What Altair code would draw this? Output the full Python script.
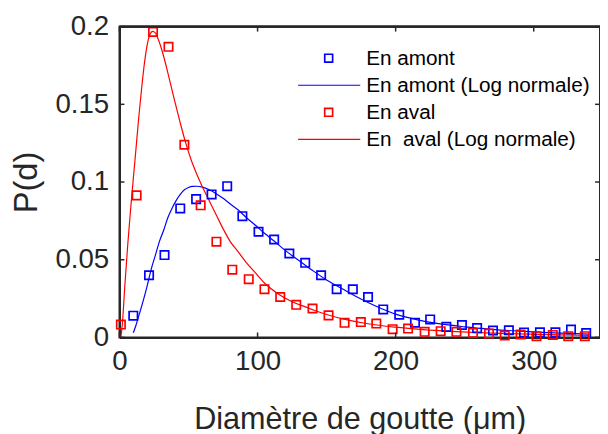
import altair as alt
import pandas as pd

# ---------------- data ----------------
amont_d = [10, 21.4, 32.6, 44, 55.5, 66.7, 78, 89, 100.7, 112, 123, 134.5, 146, 157.3, 169,
           180, 191, 202.6, 214, 225, 236.7, 248, 259, 270.5, 282, 293, 304.5, 315.7, 327, 338]
amont_p = [0.014, 0.040, 0.053, 0.083, 0.089, 0.092, 0.0973, 0.078, 0.068, 0.063, 0.054, 0.048,
           0.040, 0.031, 0.031, 0.026, 0.018, 0.0146, 0.0095, 0.0116, 0.0068, 0.008, 0.006, 0.0044,
           0.0046, 0.0032, 0.0033, 0.0033, 0.0051, 0.0028]

aval_d = [1, 12.4, 24.3, 35.5, 47, 58.8, 70.2, 81.7, 93.6, 105, 116.4, 128, 139.8, 151.4, 163,
          174.8, 186, 197.8, 209, 221, 232.6, 244, 256, 267.6, 279, 290.5, 302, 313.8, 325, 337]
aval_p = [0.0083, 0.0914, 0.1966, 0.187, 0.124, 0.085, 0.0616, 0.0436, 0.0375, 0.031, 0.026, 0.021,
          0.0186, 0.0142, 0.0094, 0.0099, 0.0089, 0.0053, 0.0057, 0.0036, 0.004, 0.0036, 0.0029,
          0.0025, 0.0012, 0.0019, 0.0008, 0.0016, 0.0008, 0.0008]

amont_fit_d = [10, 12, 14, 17, 20, 23, 26, 29, 32, 35, 38, 41, 44, 47, 50, 53, 56, 60, 65, 70, 75,
               80, 86, 92, 98, 105, 112, 120, 130, 140, 150, 160, 170, 180, 190, 200, 215, 230, 250,
               270, 290, 310, 325, 340]
amont_fit_p = [0.003, 0.008, 0.014, 0.023, 0.033, 0.044, 0.053, 0.062, 0.069, 0.077, 0.083, 0.088,
               0.092, 0.095, 0.0965, 0.0972, 0.0973, 0.0967, 0.095, 0.0925, 0.0895, 0.086, 0.082,
               0.077, 0.0725, 0.067, 0.062, 0.056, 0.0495, 0.043, 0.037, 0.032, 0.027, 0.0225,
               0.0185, 0.015, 0.0115, 0.009, 0.0068, 0.0052, 0.004, 0.0031, 0.0026, 0.0021]

aval_fit_d = [1, 2, 4, 6, 8, 10, 12, 14, 16, 18, 20, 22, 24, 26, 28, 31, 34, 37, 40, 44, 48, 52, 56,
              60, 65, 70, 75, 80, 86, 92, 98, 105, 115, 125, 135, 145, 155, 165, 180, 200, 220, 240,
              260, 280, 300, 320, 340]
aval_fit_p = [0.0, 0.008, 0.035, 0.060, 0.082, 0.102, 0.122, 0.142, 0.160, 0.176, 0.188, 0.195,
              0.197, 0.196, 0.192, 0.184, 0.174, 0.163, 0.152, 0.138, 0.125, 0.114, 0.105, 0.097,
              0.088, 0.079, 0.070, 0.062, 0.055, 0.048, 0.042, 0.035, 0.028, 0.023, 0.0195, 0.0162,
              0.0135, 0.0113, 0.0088, 0.0066, 0.0050, 0.0039, 0.0031, 0.0025, 0.0020, 0.0016, 0.0013]

legend_labels = ["En amont", "En amont (Log normale)", "En aval", "En\u00a0 aval (Log normale)"]
legend_kinds = ["marker", "line", "marker", "line"]
legend_colors = ["#0000ff", "#0000ff", "#ff0000", "#ff0000"]

x_ticks = [0, 100, 200, 300]
y_ticks = [0, 0.05, 0.1, 0.15, 0.2]

# ---------------- style ----------------
FONT = "Liberation Sans"
INK = "#262626"
W, H = 487, 315
BLUE, RED = "#0000ff", "#ff0000"
TICK = 5
LEG_TOP, LEG_STEP = 32, 27.43   # legend rows, pixels below the top of the plot

amont = pd.DataFrame({"d": amont_d, "p": amont_p})
aval = pd.DataFrame({"d": aval_d, "p": aval_p})
amont_fit = pd.DataFrame({"d": amont_fit_d, "p": amont_fit_p})
aval_fit = pd.DataFrame({"d": aval_fit_d, "p": aval_fit_p})
xt = pd.DataFrame({"d": x_ticks})
yt = pd.DataFrame({"p": y_ticks})

xs = alt.Scale(domain=[0, 348], nice=False, zero=False)
ys = alt.Scale(domain=[0, 0.2], nice=False, zero=False)

x_axis = alt.Axis(orient="bottom", values=x_ticks, labelFont=FONT, labelFontSize=28,
                  labelColor=INK, labelPadding=11, labelFlush=False, labelOverlap=False,
                  ticks=True, tickSize=0, domain=True, domainColor=INK, domainWidth=2, grid=False,
                  title="Diamètre de goutte (μm)", titleFont=FONT, titleFontSize=31,
                  titleFontWeight="normal", titleColor=INK, titlePadding=29)
y_axis = alt.Axis(orient="left", values=y_ticks, format="~g", labelFont=FONT, labelFontSize=28,
                  labelColor=INK, labelPadding=11, labelFlush=False, labelOverlap=False,
                  ticks=True, tickSize=0, domain=True, domainColor=INK, domainWidth=2, grid=False,
                  title="P(d)", titleFont=FONT, titleFontSize=33, titleFontWeight="normal",
                  titleColor=INK, titlePadding=12)

X = alt.X("d:Q", scale=xs, axis=x_axis)
Y = alt.Y("p:Q", scale=ys, axis=y_axis)

line_amont = alt.Chart(amont_fit).mark_line(color=BLUE, strokeWidth=1.2,
                                            interpolate="monotone").encode(x=X, y=Y)
line_aval = alt.Chart(aval_fit).mark_line(color=RED, strokeWidth=1.2,
                                          interpolate="monotone").encode(x=X, y=Y)
pts_amont = alt.Chart(amont).mark_point(shape="square", filled=False, size=72, strokeWidth=1.7,
                                        color=BLUE, opacity=1, clip=False).encode(x=X, y=Y)
pts_aval = alt.Chart(aval).mark_point(shape="square", filled=False, size=72, strokeWidth=1.7,
                                      color=RED, opacity=1, clip=False).encode(x=X, y=Y)

# top edge of the box
top_band = alt.Chart(xt).mark_rect(color=INK, opacity=1).encode(
    x=alt.value(0), x2=alt.value(W), y=alt.value(-1), y2=alt.value(1))

# inward ticks on all four sides (MATLAB style)
tick_bottom = alt.Chart(xt).mark_rule(color=INK, strokeWidth=1.5).encode(
    x=X, y=alt.value(H), y2=alt.value(H - TICK))
tick_top = alt.Chart(xt).mark_rule(color=INK, strokeWidth=1.5).encode(
    x=X, y=alt.value(0), y2=alt.value(TICK))
tick_left = alt.Chart(yt).mark_rule(color=INK, strokeWidth=1.5).encode(
    y=Y, x=alt.value(0), x2=alt.value(TICK))
tick_right = alt.Chart(yt).mark_rule(color=INK, strokeWidth=1.5).encode(
    y=Y, x=alt.value(W), x2=alt.value(W - TICK))

# legend entries
legend_layers = []
for i, (lab, kind, col) in enumerate(zip(legend_labels, legend_kinds, legend_colors)):
    ypx = LEG_TOP + i * LEG_STEP
    d = pd.DataFrame({"label": [lab]})
    if kind == "marker":
        legend_layers.append(alt.Chart(d).mark_point(
            shape="square", filled=False, size=64, strokeWidth=1.7, opacity=1, color=col).encode(
            x=alt.value(212), y=alt.value(ypx)))
    else:
        legend_layers.append(alt.Chart(d).mark_rule(strokeWidth=1.2, color=col).encode(
            x=alt.value(181), x2=alt.value(244), y=alt.value(ypx)))
    legend_layers.append(alt.Chart(d).mark_text(
        align="left", baseline="middle", font=FONT, fontSize=21, color="#000000").encode(
        x=alt.value(250), y=alt.value(ypx + 1), text="label:N"))

chart = alt.layer(
    line_amont, line_aval, pts_amont, pts_aval, top_band,
    tick_bottom, tick_top, tick_left, tick_right, *legend_layers
).properties(
    width=W, height=H,
    padding={"left": 113, "top": 16, "right": 0, "bottom": 95},
    autosize=alt.AutoSizeParams(type="none"),
).configure_view(stroke=INK, strokeWidth=2)

chart.save("out.html", embed_options={"renderer": "svg", "actions": False})
